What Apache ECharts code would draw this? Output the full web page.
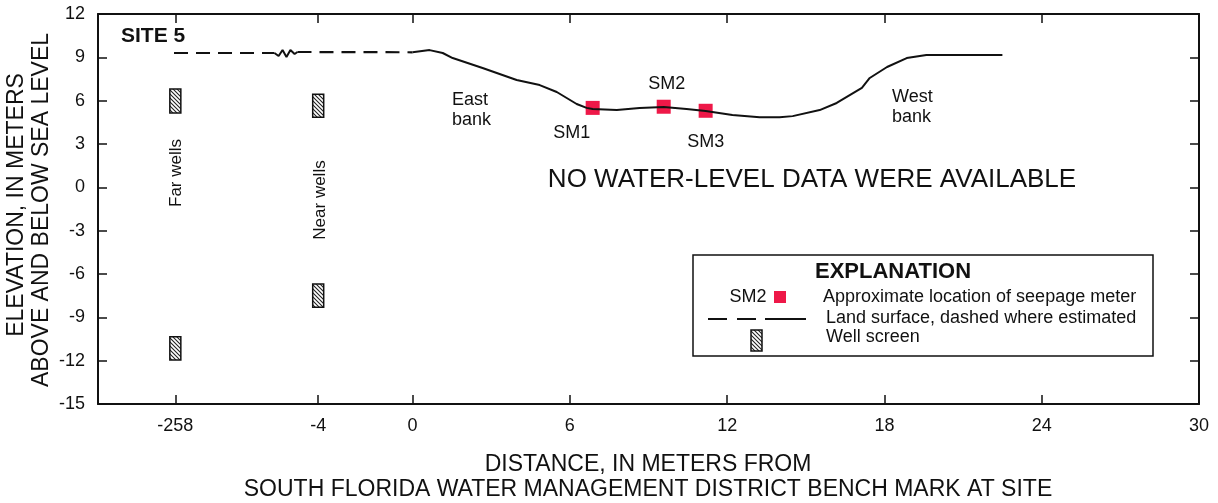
<!DOCTYPE html>
<html><head><meta charset="utf-8">
<script src="https://cdn.jsdelivr.net/npm/echarts@6/dist/echarts.min.js"></script>
<style>html,body{margin:0;padding:0;background:#fff}#c{width:1218px;height:503px}</style>
</head><body><div id="c"></div>
<script>
// ---- Data (x in axis units of the broken distance axis) ----
const xTickLabels = ['-258', '-4', '0', '6', '12', '18', '24', '30'];
const xTickValues = [-9.05, -3.6, 0, 6, 12, 18, 24, 30];

// measured land surface (solid)
const landX = [0, 0.65, 1.15, 1.53, 2.67, 3.97, 4.85, 5.5, 6.26, 6.64, 6.87, 7.79, 8.66, 9.58, 10.45, 11.18, 12.2, 13.24, 14.0, 14.5, 15.53, 16.18, 17.14, 17.44, 18.1, 18.85, 19.6, 22.5];
const landY = [9.35, 9.5, 9.3, 8.95, 8.26, 7.43, 7.08, 6.6, 5.77, 5.5, 5.42, 5.35, 5.5, 5.56, 5.42, 5.28, 5.0, 4.86, 4.86, 4.93, 5.35, 5.84, 6.88, 7.57, 8.33, 8.95, 9.16, 9.16];

// estimated land surface (dashed)
const estLandX = [-9.1, -5.27, null, -4.39, 0];
const estLandY = [9.3, 9.3, null, 9.37, 9.35];

// axis break symbol
const breakX = [-5.27, -5.11, -4.96, -4.81, -4.66, -4.5, -4.39];
const breakY = [9.3, 9.09, 9.51, 9.02, 9.51, 9.23, 9.37];

// seepage meters
const smNames = ['SM1', 'SM2', 'SM3'];
const smX = [6.87, 9.58, 11.18];
const smY = [5.5, 5.58, 5.3];

// well screens
const wellX = [-9.05, -9.05, -3.6, -3.6];
const wellTop = [6.8, -10.35, 6.45, -6.7];
const wellBottom = [5.15, -11.95, 4.85, -8.3];

// ---- Chart ----
const FONT = '"Liberation Sans", Arial, sans-serif';
const INK = '#111';
const RED = '#ee1848';

const pc = document.createElement('canvas');
pc.width = 4; pc.height = 4;
const g = pc.getContext('2d');
g.fillStyle = '#fff'; g.fillRect(0, 0, 4, 4);
g.strokeStyle = '#222'; g.lineWidth = 1.1;
g.beginPath();
g.moveTo(0, 0); g.lineTo(4, 4);
g.moveTo(-2, 2); g.lineTo(2, 6);
g.moveTo(2, -2); g.lineTo(6, 2);
g.stroke();
const hatch = { image: pc, repeat: 'repeat' };

const toPairs = (xs, ys) => xs.map((x, i) => x === null ? ['-', '-'] : [x, ys[i]]);

const axisLine = { show: true, onZero: false, lineStyle: { color: INK, width: 2 } };
const tickStyle = { color: INK, width: 1.5 };

const chart = echarts.init(document.getElementById('c'), null, { renderer: 'canvas' });
chart.setOption({
  animation: false,
  backgroundColor: '#fff',
  grid: { left: 98, right: 19, top: 14, bottom: 99, containLabel: false, outerBoundsMode: 'none' },
  xAxis: [
    {
      type: 'value', min: -12, max: 30, position: 'bottom',
      axisLine,
      axisTick: { show: true, inside: true, length: 9, customValues: xTickValues, lineStyle: tickStyle },
      axisLabel: {
        customValues: xTickValues, color: INK, fontSize: 18, fontFamily: FONT, margin: 13,
        formatter: v => { const i = xTickValues.findIndex(t => Math.abs(t - v) < 1e-6); return i >= 0 ? xTickLabels[i] : ''; }
      },
      splitLine: { show: false }
    },
    {
      type: 'value', min: -12, max: 30, position: 'top',
      axisLine,
      axisTick: { show: true, inside: true, length: 9, customValues: xTickValues, lineStyle: tickStyle },
      axisLabel: { show: false },
      splitLine: { show: false }
    }
  ],
  yAxis: [
    {
      type: 'value', min: -15, max: 12, interval: 3, position: 'left',
      axisLine,
      axisTick: { show: true, inside: true, length: 9, lineStyle: tickStyle },
      axisLabel: { color: INK, fontSize: 18, fontFamily: FONT, margin: 13 },
      splitLine: { show: false }
    },
    {
      type: 'value', min: -15, max: 12, interval: 3, position: 'right',
      axisLine,
      axisTick: { show: true, inside: true, length: 9, lineStyle: tickStyle },
      axisLabel: { show: false },
      splitLine: { show: false }
    }
  ],
  series: [
    {
      type: 'line', name: 'est', data: toPairs(estLandX, estLandY), showSymbol: false, symbol: 'none',
      lineStyle: { color: INK, width: 2.2, type: [14, 8] }, connectNulls: false, silent: true
    },
    {
      type: 'line', name: 'break', data: toPairs(breakX, breakY), showSymbol: false, symbol: 'none',
      lineStyle: { color: INK, width: 2 }, silent: true
    },
    {
      type: 'line', name: 'land', data: toPairs(landX, landY), showSymbol: false, symbol: 'none',
      lineStyle: { color: INK, width: 2 }, silent: true
    },
    {
      type: 'custom', name: 'wells',
      data: wellX.map((x, i) => [x, wellTop[i], wellBottom[i]]),
      renderItem: (params, api) => {
        const p1 = api.coord([api.value(0), api.value(1)]);
        const p2 = api.coord([api.value(0), api.value(2)]);
        const w = 11;
        return { type: 'rect', shape: { x: p1[0] - w / 2, y: p1[1], width: w, height: p2[1] - p1[1] },
          style: { fill: hatch, stroke: INK, lineWidth: 1.5 } };
      },
      silent: true
    },
    {
      type: 'scatter', name: 'sm', symbol: 'rect', symbolSize: 14,
      itemStyle: { color: RED, opacity: 1 },
      data: smX.map((x, i) => ({
        value: [x, smY[i]], name: smNames[i],
        label: {
          show: true, formatter: smNames[i], color: INK, fontSize: 18, fontFamily: FONT,
          position: i === 1 ? 'top' : 'bottom',
          offset: i === 0 ? [-21, 4] : (i === 1 ? [3, -2] : [0, 10])
        }
      })),
      silent: true
    }
  ],
  graphic: [
    { type: 'text', x: 121, y: 36, style: { text: 'SITE 5', font: 'bold 21px ' + FONT, fill: INK, align: 'left', verticalAlign: 'middle' } },
    { type: 'text', x: 176, y: 173, rotation: Math.PI / 2, style: { text: 'Far wells', font: '17px ' + FONT, fill: INK, align: 'center', verticalAlign: 'middle' } },
    { type: 'text', x: 320, y: 200, rotation: Math.PI / 2, style: { text: 'Near wells', font: '17px ' + FONT, fill: INK, align: 'center', verticalAlign: 'middle' } },
    { type: 'text', x: 452, y: 110, style: { text: 'East\nbank', font: '18px ' + FONT, lineHeight: 20, fill: INK, align: 'left', verticalAlign: 'middle' } },
    { type: 'text', x: 892, y: 107, style: { text: 'West\nbank', font: '18px ' + FONT, lineHeight: 20, fill: INK, align: 'left', verticalAlign: 'middle' } },
    { type: 'text', x: 812, y: 180, style: { text: 'NO WATER-LEVEL DATA WERE AVAILABLE', font: '26px ' + FONT, fill: INK, align: 'center', verticalAlign: 'middle' } },
    // explanation box
    { type: 'rect', shape: { x: 693, y: 255, width: 460, height: 101 }, style: { fill: '#fff', stroke: INK, lineWidth: 1.5 } },
    { type: 'text', x: 893, y: 272, style: { text: 'EXPLANATION', font: 'bold 22px ' + FONT, fill: INK, align: 'center', verticalAlign: 'middle' } },
    { type: 'text', x: 748, y: 297, style: { text: 'SM2', font: '18px ' + FONT, fill: INK, align: 'center', verticalAlign: 'middle' } },
    { type: 'rect', shape: { x: 774, y: 291, width: 12, height: 12 }, style: { fill: RED } },
    { type: 'text', x: 823, y: 297, style: { text: 'Approximate location of seepage meter', font: '18px ' + FONT, fill: INK, align: 'left', verticalAlign: 'middle' } },
    { type: 'line', shape: { x1: 708, y1: 319, x2: 727, y2: 319 }, style: { stroke: INK, lineWidth: 2 } },
    { type: 'line', shape: { x1: 737, y1: 319, x2: 756, y2: 319 }, style: { stroke: INK, lineWidth: 2 } },
    { type: 'line', shape: { x1: 765, y1: 319, x2: 806, y2: 319 }, style: { stroke: INK, lineWidth: 2 } },
    { type: 'text', x: 826, y: 318, style: { text: 'Land surface, dashed where estimated', font: '18px ' + FONT, fill: INK, align: 'left', verticalAlign: 'middle' } },
    { type: 'rect', shape: { x: 751, y: 330, width: 11, height: 21 }, style: { fill: hatch, stroke: INK, lineWidth: 1.5 } },
    { type: 'text', x: 826, y: 337, style: { text: 'Well screen', font: '18px ' + FONT, fill: INK, align: 'left', verticalAlign: 'middle' } },
    // axis titles
    { type: 'text', x: 17, y: 205, rotation: Math.PI / 2, style: { text: 'ELEVATION, IN METERS', font: '23px ' + FONT, fill: INK, align: 'center', verticalAlign: 'middle' } },
    { type: 'text', x: 42, y: 210, rotation: Math.PI / 2, style: { text: 'ABOVE AND BELOW SEA LEVEL', font: '23px ' + FONT, fill: INK, align: 'center', verticalAlign: 'middle' } },
    { type: 'text', x: 648, y: 465, style: { text: 'DISTANCE, IN METERS FROM', font: '23px ' + FONT, fill: INK, align: 'center', verticalAlign: 'middle' } },
    { type: 'text', x: 648, y: 490, style: { text: 'SOUTH FLORIDA WATER MANAGEMENT DISTRICT BENCH MARK AT SITE', font: '23px ' + FONT, fill: INK, align: 'center', verticalAlign: 'middle' } }
  ]
});
</script>
</body></html>
